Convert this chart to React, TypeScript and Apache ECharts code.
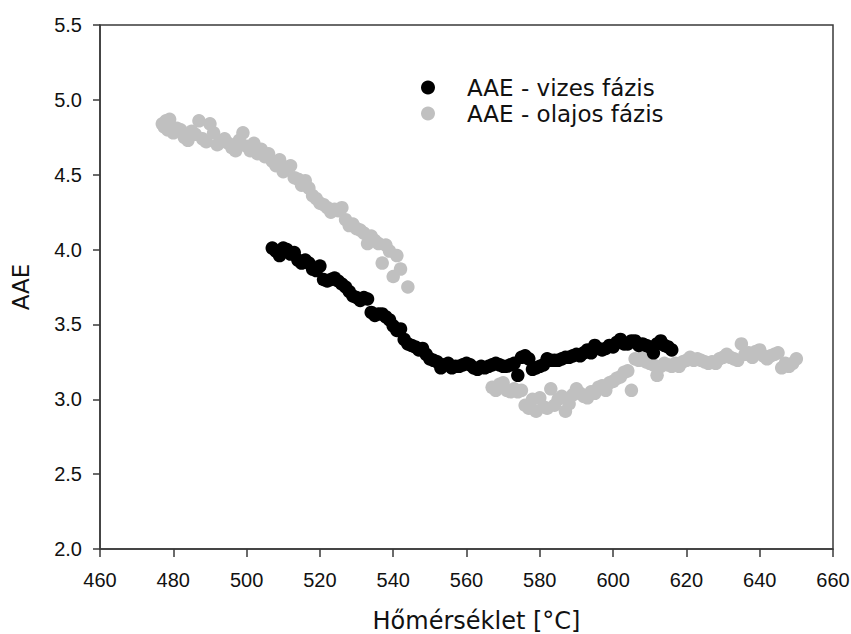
import React, { useEffect, useRef } from "react";
import * as echarts from "echarts";

const xTicks = [460, 480, 500, 520, 540, 560, 580, 600, 620, 640, 660];
const yTicks = [2.0, 2.5, 3.0, 3.5, 4.0, 4.5, 5.0, 5.5];

const seriesNames = ["AAE - vizes fázis", "AAE - olajos fázis"];

// AAE - vizes fázis (water phase): [temperature °C, AAE]
const vizesTemp = [
  507, 508, 509, 510, 511, 512, 513, 514, 515, 516, 517, 518, 519, 520, 521, 522, 523, 524, 525, 526,
  527, 528, 529, 530, 531, 532, 533, 534, 535, 536, 537, 538, 539, 540, 541, 542, 543, 544, 545, 546,
  547, 548, 549, 550, 551, 552, 553, 554, 555, 556, 557, 558, 559, 560, 561, 562, 563, 564, 565, 566,
  567, 568, 569, 570, 571, 572, 573, 574, 575, 576, 577, 578, 579, 580, 581, 582, 583, 584, 585, 586,
  587, 588, 589, 590, 591, 592, 593, 594, 595, 596, 597, 598, 599, 600, 601, 602, 603, 604, 605, 606,
  607, 608, 609, 610, 611, 612, 613, 614, 615, 616,
];
const vizesAAE = [
  4.01, 3.99, 3.96, 4.01, 4.0, 3.97, 3.98, 3.93, 3.91, 3.93, 3.91, 3.87, 3.86, 3.89, 3.8, 3.79, 3.8, 3.81, 3.79, 3.77,
  3.75, 3.72, 3.69, 3.68, 3.66, 3.68, 3.67, 3.58, 3.56, 3.57, 3.57, 3.55, 3.53, 3.49, 3.46, 3.47, 3.4, 3.37, 3.36, 3.35,
  3.33, 3.34, 3.3, 3.27, 3.26, 3.25, 3.21, 3.23, 3.24, 3.21, 3.22, 3.22, 3.23, 3.24, 3.23, 3.21, 3.2, 3.22, 3.21, 3.22,
  3.23, 3.24, 3.23, 3.22, 3.22, 3.23, 3.24, 3.16, 3.28, 3.29, 3.27, 3.2, 3.21, 3.22, 3.23, 3.27, 3.26, 3.26, 3.26, 3.27,
  3.28, 3.28, 3.29, 3.3, 3.29, 3.31, 3.33, 3.31, 3.36, 3.34, 3.33, 3.34, 3.36, 3.35, 3.38, 3.4, 3.37, 3.37, 3.39, 3.39,
  3.36, 3.37, 3.36, 3.35, 3.31, 3.37, 3.39, 3.36, 3.35, 3.33,
];

// AAE - olajos fázis (oil phase): [temperature °C, AAE]
const olajosTemp = [
  477, 477.5, 478, 478.5, 479, 480, 481, 482, 483, 484, 485, 486, 487, 488, 489, 490, 491, 492, 493, 494,
  495, 496, 497, 498, 499, 500, 501, 502, 503, 504, 505, 506, 507, 508, 509, 510, 511, 512, 513, 514,
  515, 516, 517, 518, 519, 520, 521, 522, 523, 524, 525, 526, 527, 528, 529, 530, 531, 532, 533, 534,
  535, 536, 537, 538, 539, 540, 541, 542, 544,
  567, 568, 569, 570, 571, 572, 573, 574, 575, 576, 577, 578, 579, 580, 581, 582, 583, 584, 585, 586,
  587, 588, 589, 590, 591, 592, 593, 594, 595, 596, 597, 598, 599, 600, 601, 602, 603, 604, 605, 606,
  607, 608, 609, 610, 611, 612, 613, 614, 615, 616, 617, 618, 619, 620, 621, 622, 623, 624, 625, 626,
  627, 628, 629, 630, 631, 632, 633, 634, 635, 636, 637, 638, 639, 640, 641, 642, 643, 644, 645, 646,
  647, 648, 649, 650,
];
const olajosAAE = [
  4.84, 4.82, 4.86, 4.8, 4.87, 4.78, 4.81, 4.8, 4.75, 4.73, 4.79, 4.77, 4.86, 4.74, 4.72, 4.84, 4.78, 4.7, 4.72, 4.74,
  4.71, 4.68, 4.66, 4.73, 4.78, 4.69, 4.66, 4.71, 4.64, 4.67, 4.62, 4.64, 4.59, 4.56, 4.6, 4.52, 4.55, 4.56, 4.48, 4.47,
  4.43, 4.46, 4.41, 4.36, 4.34, 4.31, 4.3, 4.28, 4.25, 4.27, 4.26, 4.28, 4.2, 4.16, 4.17, 4.14, 4.13, 4.11, 4.04, 4.09,
  4.06, 4.04, 3.91, 4.03, 3.99, 3.82, 3.96, 3.87, 3.75,
  3.08, 3.06, 3.1, 3.11, 3.06, 3.05, 3.07, 3.05, 3.06, 2.96, 2.94, 3.0, 2.92, 3.01, 2.95, 2.94, 3.07, 2.96, 3.0, 3.02,
  2.92, 2.97, 3.03, 3.07, 3.04, 3.02, 3.01, 3.05, 3.04, 3.08, 3.09, 3.06, 3.11, 3.12, 3.14, 3.15, 3.18, 3.19, 3.06, 3.27,
  3.26, 3.28, 3.25, 3.24, 3.23, 3.16, 3.22, 3.24, 3.23, 3.22, 3.24, 3.22, 3.25, 3.26, 3.28, 3.26, 3.27, 3.26, 3.25, 3.24,
  3.25, 3.24, 3.27, 3.28, 3.3, 3.28, 3.27, 3.26, 3.37, 3.3, 3.31, 3.28, 3.32, 3.33, 3.29, 3.27, 3.29, 3.3, 3.31, 3.21,
  3.24, 3.22, 3.24, 3.27,
];

const axisColor = "#3a3a3a";

export default function App() {
  const ref = useRef<HTMLDivElement>(null);

  useEffect(() => {
    if (!ref.current) return;
    const chart = echarts.init(ref.current, undefined, { renderer: "svg" });
    const vizes = vizesTemp.map((t, i) => [t, vizesAAE[i]]);
    const olajos = olajosTemp.map((t, i) => [t, olajosAAE[i]]);
    chart.setOption({
      animation: false,
      backgroundColor: "#ffffff",
      grid: {
        left: 100,
        right: 18,
        top: 25,
        bottom: 85,
        containLabel: false,
        outerBoundsMode: "none",
        show: true,
        borderColor: axisColor,
        borderWidth: 1.5,
        backgroundColor: "transparent",
      },
      legend: {
        data: seriesNames,
        orient: "vertical",
        left: 416,
        top: 71,
        itemWidth: 68,
        itemHeight: 14,
        itemGap: 3,
        icon: "circle",
        selectedMode: false,
        textStyle: {
          fontFamily: "DejaVu Sans",
          fontSize: 23,
          color: "#111111",
        },
      },
      xAxis: {
        type: "value",
        min: xTicks[0],
        max: xTicks[xTicks.length - 1],
        interval: 20,
        name: "Hőmérséklet [°C]",
        nameLocation: "middle",
        nameGap: 60,
        nameTextStyle: {
          fontFamily: "DejaVu Sans",
          fontSize: 24,
          color: "#111111",
          padding: [0, 0, 0, 20],
        },
        axisLine: { show: true, lineStyle: { color: axisColor, width: 1.5 } },
        axisTick: { show: true, inside: false, length: 8, lineStyle: { color: axisColor, width: 1.5 } },
        axisLabel: {
          margin: 21,
          fontFamily: "Liberation Sans",
          fontSize: 20,
          color: "#111111",
        },
        splitLine: { show: false },
      },
      yAxis: {
        type: "value",
        min: yTicks[0],
        max: yTicks[yTicks.length - 1],
        interval: 0.5,
        name: "AAE",
        nameLocation: "middle",
        nameGap: 68,
        nameRotate: 90,
        nameTextStyle: { fontFamily: "DejaVu Sans", fontSize: 23, color: "#111111" },
        axisLine: { show: true, lineStyle: { color: axisColor, width: 1.5 } },
        axisTick: { show: true, inside: false, length: 7, lineStyle: { color: axisColor, width: 1.5 } },
        axisLabel: {
          margin: 18,
          fontFamily: "Liberation Sans",
          fontSize: 20,
          color: "#111111",
          formatter: (v: number) => v.toFixed(1),
        },
        splitLine: { show: false },
      },
      series: [
        {
          name: seriesNames[1],
          type: "scatter",
          data: olajos,
          symbol: "circle",
          symbolSize: 13.5,
          itemStyle: { color: "#c0c0c0", opacity: 1 },
          z: 2,
        },
        {
          name: seriesNames[0],
          type: "scatter",
          data: vizes,
          symbol: "circle",
          symbolSize: 13.5,
          itemStyle: { color: "#000000", opacity: 1 },
          z: 3,
        },
      ],
    });
    return () => chart.dispose();
  }, []);

  return (
    <div
      ref={ref}
      style={{ position: "fixed", left: 0, top: 0, width: 851, height: 634, background: "#fff" }}
    />
  );
}
